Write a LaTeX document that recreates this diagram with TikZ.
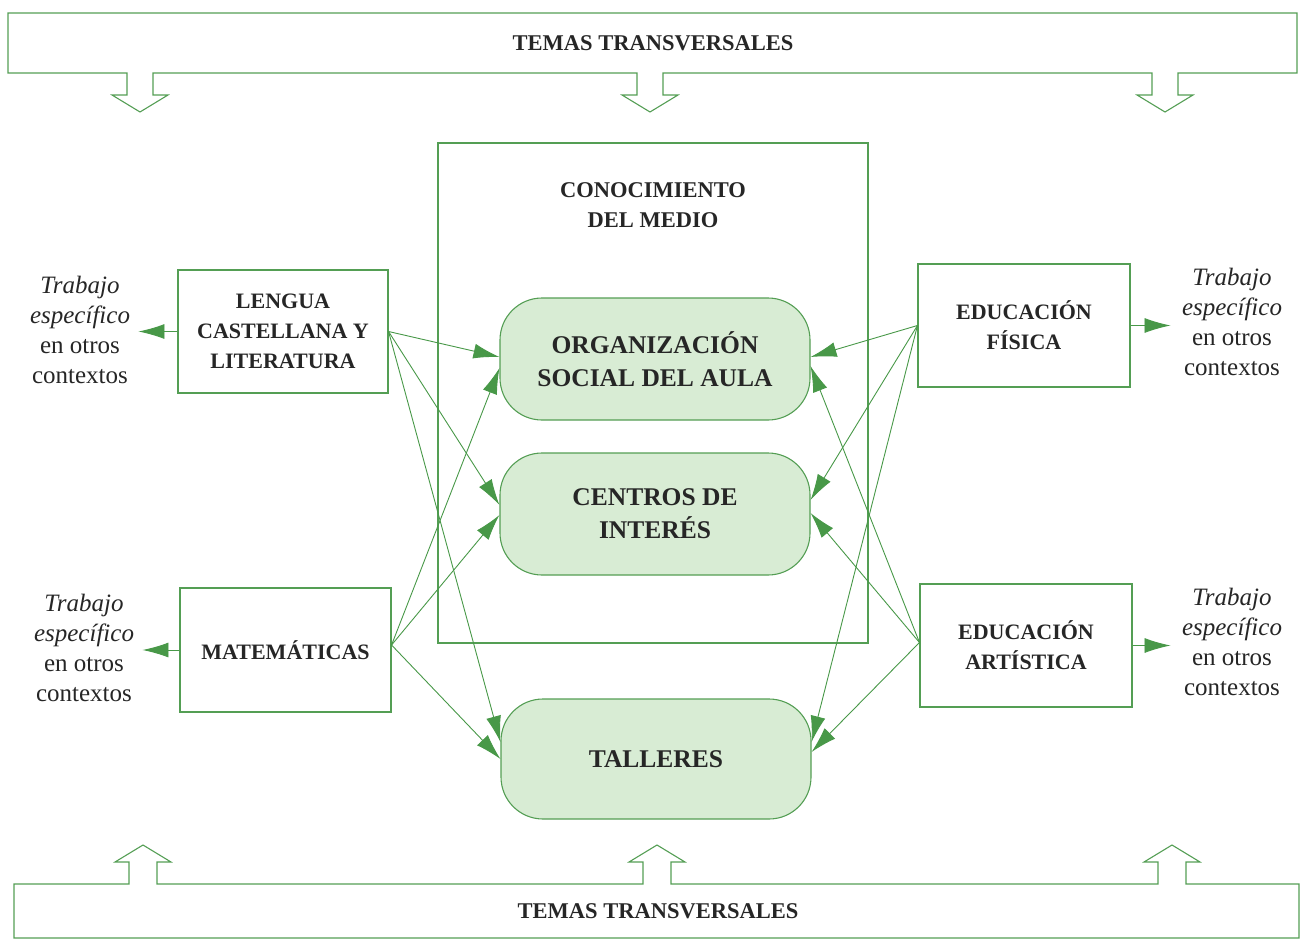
\documentclass[tikz,border=0pt]{standalone}
\usepackage{fontspec}
\setmainfont{Liberation Serif}
\usetikzlibrary{arrows.meta}
\definecolor{cgreen}{RGB}{84,158,84}
\definecolor{agreen}{RGB}{72,152,72}
\definecolor{cfill}{RGB}{216,236,212}
\definecolor{txt}{RGB}{38,38,38}

\begin{document}
\begin{tikzpicture}[x=1pt,y=-1pt,>={Latex[length=26pt,width=15pt]},
    line width=1pt,
    banner/.style={draw=cgreen,line width=1.1pt,line join=miter},
    subject/.style={draw=cgreen,line width=1.1pt,align=center,text=txt,
        minimum width=211,minimum height=123,
        font=\bfseries\fontsize{22}{30}\selectfont},
    core/.style={draw=cgreen,fill=cfill,line width=1.1pt,rounded corners=42pt,
        minimum width=310,minimum height=122,align=center,text=txt,
        font=\bfseries\fontsize{25.5}{33}\selectfont},
    side/.style={align=center,text=txt,inner xsep=8pt,
        font=\fontsize{25}{30}\selectfont},
    link/.style={->,agreen,line width=0.9pt}]
    \useasboundingbox (0,0) rectangle (1300,939);
    % temas transversales, arriba y abajo
    \draw[banner] (8,13) -- (1297,13) -- (1297,73)
        foreach \ax in {1165,650,140} { -- (\ax+13,73) -- (\ax+13,95) -- (\ax+28,95) -- (\ax,112)
        -- (\ax-28,95) -- (\ax-13,95) -- (\ax-13,73) } -- (8,73) -- cycle;
    \draw[banner] (14,938) -- (14,884)
        foreach \ax in {143,657,1172} { -- (\ax-14,884) -- (\ax-14,862) -- (\ax-28,862) -- (\ax,845)
        -- (\ax+28,862) -- (\ax+14,862) -- (\ax+14,884) } -- (1299,884) -- (1299,938) -- cycle;
    \node[text=txt,font=\bfseries\fontsize{22.5}{26}\selectfont] (temasA) at (653,43) {TEMAS TRANSVERSALES};
    \node[text=txt,font=\bfseries\fontsize{22.5}{26}\selectfont] (temasB) at (658,911) {TEMAS TRANSVERSALES};
    % conocimiento del medio
    \node[draw=cgreen,line width=1.1pt,minimum width=430,minimum height=500] (medio) at (653,393) {};
    \node[align=center,text=txt,font=\bfseries\fontsize{22.5}{30}\selectfont] (medioT) at (653,205) {CONOCIMIENTO\\DEL MEDIO};
    \node[core] (org) at (655,359) {ORGANIZACIÓN\\SOCIAL DEL AULA};
    \node[core] (cen) at (655,514) {CENTROS DE\\INTERÉS};
    \node[core,minimum height=120] (tal) at (656,759) {TALLERES};
    % areas
    \node[subject,minimum width=210] (len) at (283,331.5) {LENGUA\\CASTELLANA Y\\LITERATURA};
    \node[subject,minimum height=124] (mat) at (285.5,650) {MATEMÁTICAS};
    \node[subject,minimum width=212] (fis) at (1024,325.5) {EDUCACIÓN\\FÍSICA};
    \node[subject,minimum width=212] (art) at (1026,645.5) {EDUCACIÓN\\ARTÍSTICA};
    % trabajo especifico
    \node[side] (lenT) at (80,330) {\textit{Trabajo}\\\textit{específico}\\en otros\\contextos};
    \node[side] (matT) at (84,648) {\textit{Trabajo}\\\textit{específico}\\en otros\\contextos};
    \node[side,inner xsep=11pt] (fisT) at (1232,321.5) {\textit{Trabajo}\\\textit{específico}\\en otros\\contextos};
    \node[side,inner xsep=11pt] (artT) at (1232,641.5) {\textit{Trabajo}\\\textit{específico}\\en otros\\contextos};
    \draw[link] (len.west) -- (len.west -| lenT.east);
    \draw[link] (mat.west) -- (mat.west -| matT.east);
    \draw[link] (fis.east) -- (fis.east -| fisT.west);
    \draw[link] (art.east) -- (art.east -| artT.west);
    % flechas hacia los bloques centrales
    \draw[link] (len.east) -- ([yshift=2]org.west);
    \draw[link] (len.east) -- ([yshift=9]cen.west);
    \draw[link] (len.east) -- ([yshift=17]tal.west);
    \draw[link] ([yshift=5]mat.east) -- ([yshift=-9]org.west);
    \draw[link] ([yshift=5]mat.east) -- ([yshift=-1]cen.west);
    \draw[link] ([yshift=5]mat.east) -- (tal.west);
    \draw[link] (fis.west) -- ([yshift=2]org.east);
    \draw[link] (fis.west) -- ([yshift=14]cen.east);
    \draw[link] (fis.west) -- ([yshift=17]tal.east);
    \draw[link] ([yshift=3]art.west) -- ([yshift=-7]org.east);
    \draw[link] ([yshift=3]art.west) -- ([yshift=1]cen.east);
    \draw[link] ([yshift=3]art.west) -- ([yshift=7]tal.east);
\end{tikzpicture}
\end{document}
